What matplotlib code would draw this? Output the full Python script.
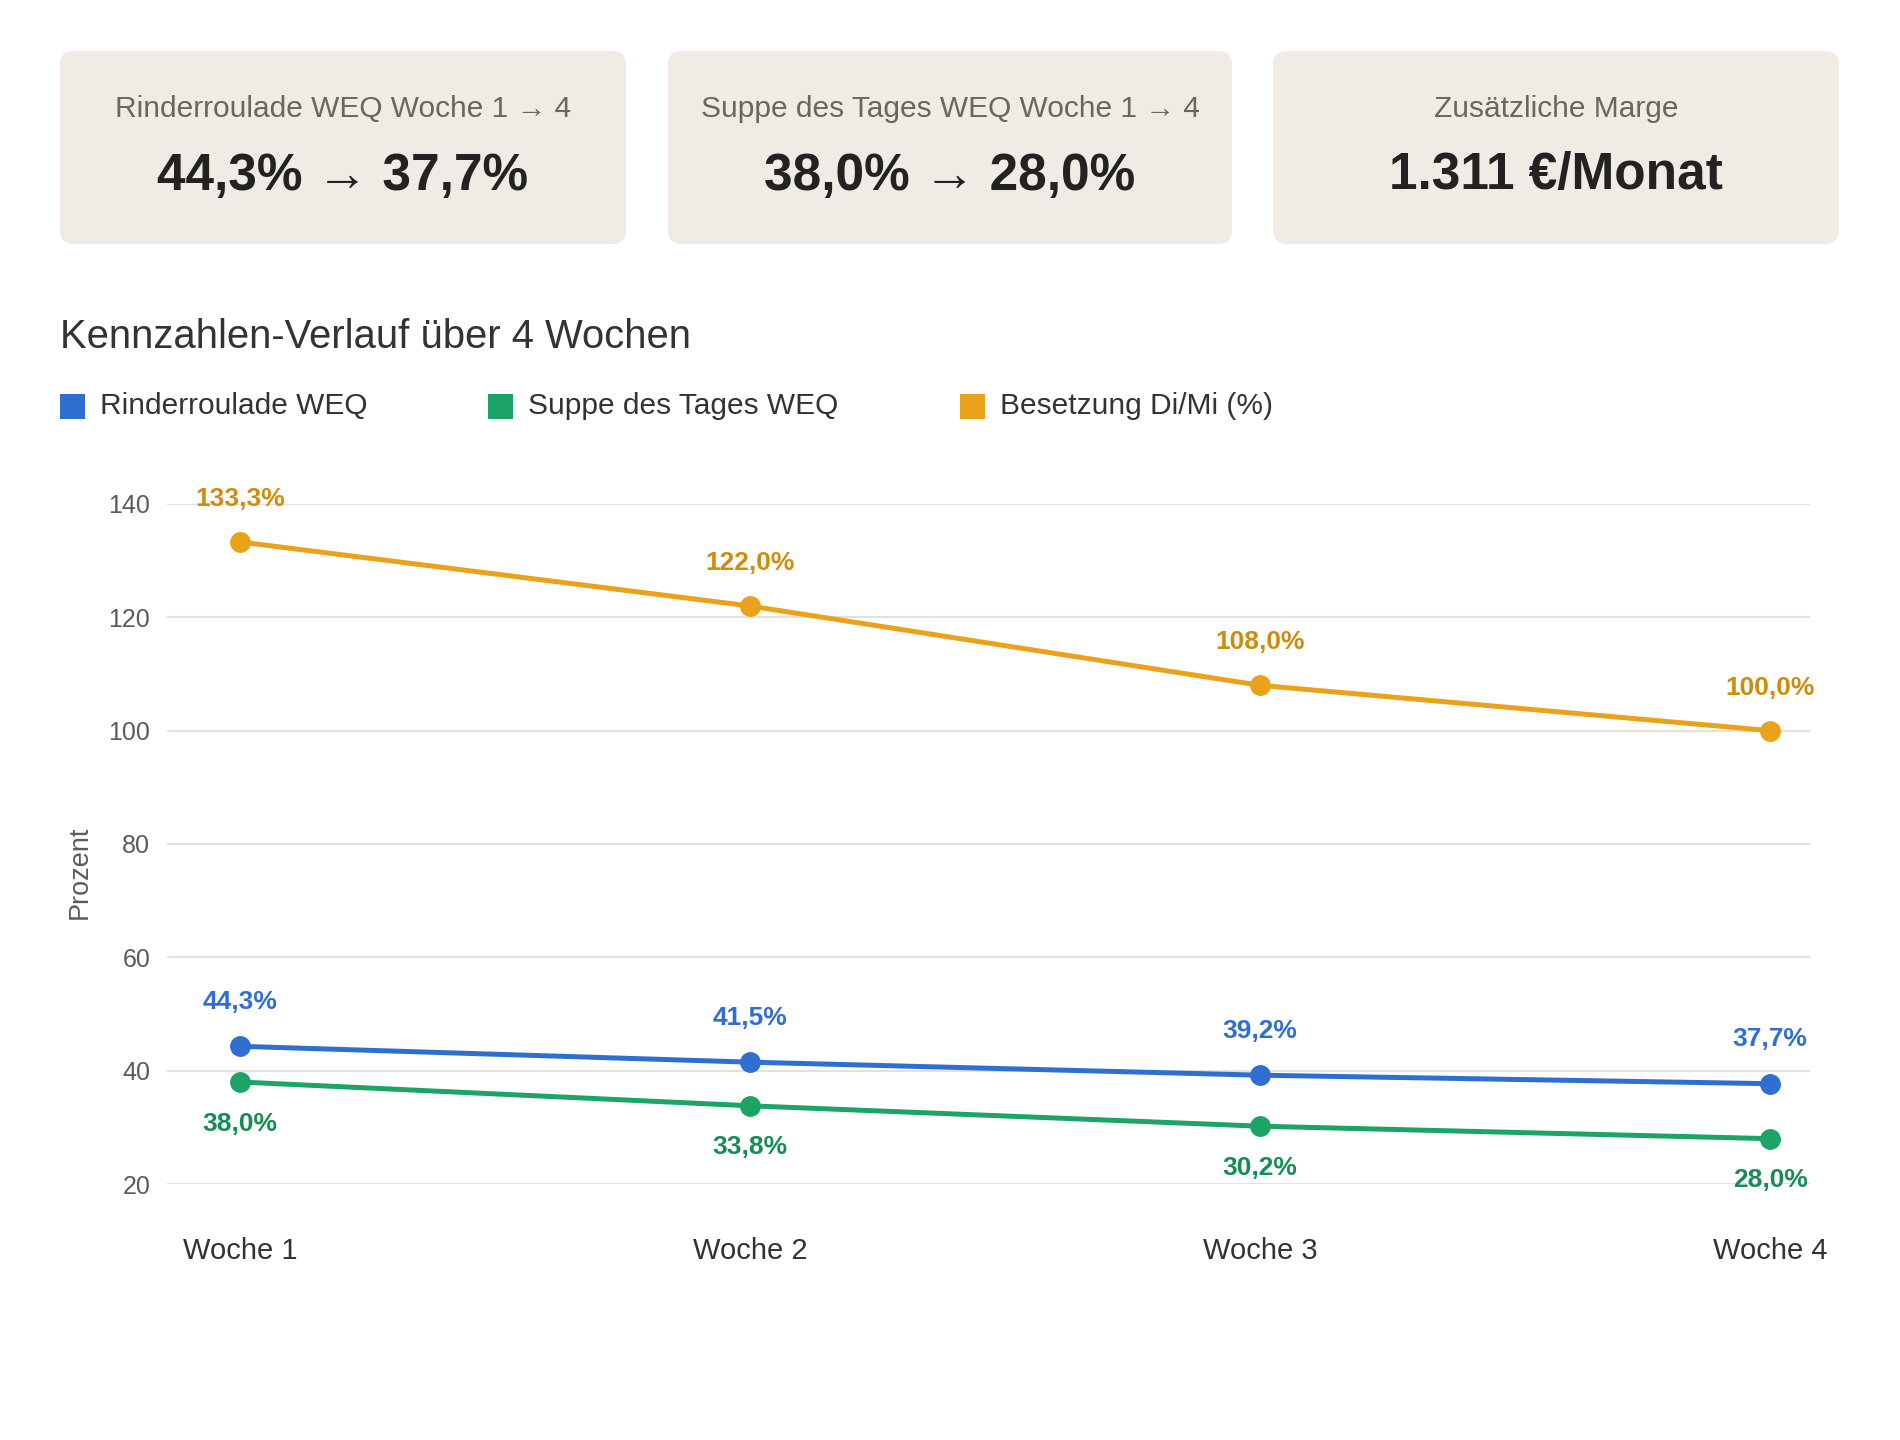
import matplotlib
matplotlib.use("Agg")
import matplotlib.pyplot as plt
from matplotlib.patches import FancyBboxPatch, Rectangle
from matplotlib import font_manager

# ── data ──
weeks = ["Woche 1", "Woche 2", "Woche 3", "Woche 4"]
rinder = [44.3, 41.5, 39.2, 37.7]
suppe = [38.0, 33.8, 30.2, 28.0]
besetzung = [133.3, 122.0, 108.0, 100.0]
y_ticks = [20, 40, 60, 80, 100, 120, 140]

card_titles = ["Rinderroulade WEQ Woche 1 → 4", "Suppe des Tages WEQ Woche 1 → 4", "Zusätzliche Marge"]
card_values = ["44,3% → 37,7%", "38,0% → 28,0%", "1.311 €/Monat"]

series_names = ["Rinderroulade WEQ", "Suppe des Tages WEQ", "Besetzung Di/Mi (%)"]

BLUE, GREEN, ORANGE = "#2f6fd1", "#1ba466", "#e9a21a"
BLUE_TXT, GREEN_TXT, ORANGE_TXT = "#2f6fd1", "#178c57", "#cf8c0c"
DARK = "#333333"
GREY = "#5f5a55"

plt.rcParams["font.family"] = ["Liberation Sans", "DejaVu Sans"]

names = {f.name for f in font_manager.fontManager.ttflist}
narrow = "Liberation Sans Narrow" if "Liberation Sans Narrow" in names else "Liberation Sans"

fig = plt.figure(figsize=(19, 14.4), dpi=100)

# background axes in pixel coordinates
bg = fig.add_axes([0, 0, 1, 1])
bg.set_xlim(0, 1900)
bg.set_ylim(1440, 0)
bg.axis("off")

card_x = [(60, 626), (668, 1232), (1273, 1839)]
for (x0, x1), t, v in zip(card_x, card_titles, card_values):
    bg.add_patch(FancyBboxPatch((x0, 51), x1 - x0, 193,
                                boxstyle="round,pad=0,rounding_size=14",
                                fc="#f0ebe5", ec="none"))
    cx = (x0 + x1) / 2
    bg.text(cx, 109, t, ha="center", va="center", fontsize=21.5, color="#6b6560")
    bg.text(cx, 176, v, ha="center", va="center", fontsize=37, fontweight="bold",
            color="#222222", family=[narrow, "DejaVu Sans"])

bg.text(60, 337, "Kennzahlen-Verlauf über 4 Wochen", ha="left", va="center",
        fontsize=28.8, color=DARK)

leg_x = [60, 488, 960]
for lx, name, col in zip(leg_x, series_names, [BLUE, GREEN, ORANGE]):
    bg.add_patch(Rectangle((lx, 394), 25, 25, fc=col, ec="none"))
    bg.text(lx + 40, 406, name, ha="left", va="center", fontsize=21.5, color=DARK)

bg.text(80, 872, "Prozent", rotation=90, ha="center", va="center", fontsize=19.5, color=GREY)

# chart axes
ax = fig.add_axes([167 / 1900, 1 - 1184 / 1440, (1810 - 167) / 1900, (1184 - 504) / 1440])
x = list(range(len(weeks)))
ax.set_xlim(-0.143, 3.078)
ax.set_ylim(20, 140)
ax.set_yticks(y_ticks)
ax.set_xticks(x)
ax.set_xticklabels(weeks)
ax.grid(axis="y", color="#e4e0da", lw=1.5)
ax.set_axisbelow(True)
for s in ax.spines.values():
    s.set_visible(False)
ax.tick_params(axis="y", length=0, pad=12, labelsize=18, labelcolor=GREY)
ax.tick_params(axis="x", length=0, pad=38, labelsize=21, labelcolor=DARK)

for vals, col, tcol, dy in [(besetzung, ORANGE, ORANGE_TXT, 31),
                            (rinder, BLUE, BLUE_TXT, 32),
                            (suppe, GREEN, GREEN_TXT, -30)]:
    ax.plot(x, vals, color=col, lw=3.6, marker="o", ms=14, clip_on=False, zorder=3)
    for xi, v in zip(x, vals):
        ax.annotate(f"{v:.1f}%".replace(".", ","), (xi, v), xytext=(0, dy),
                    textcoords="offset points", ha="center", va="center",
                    fontsize=19, fontweight="bold", color=tcol, zorder=4)

fig.savefig("out.png", dpi=100, facecolor="white")
